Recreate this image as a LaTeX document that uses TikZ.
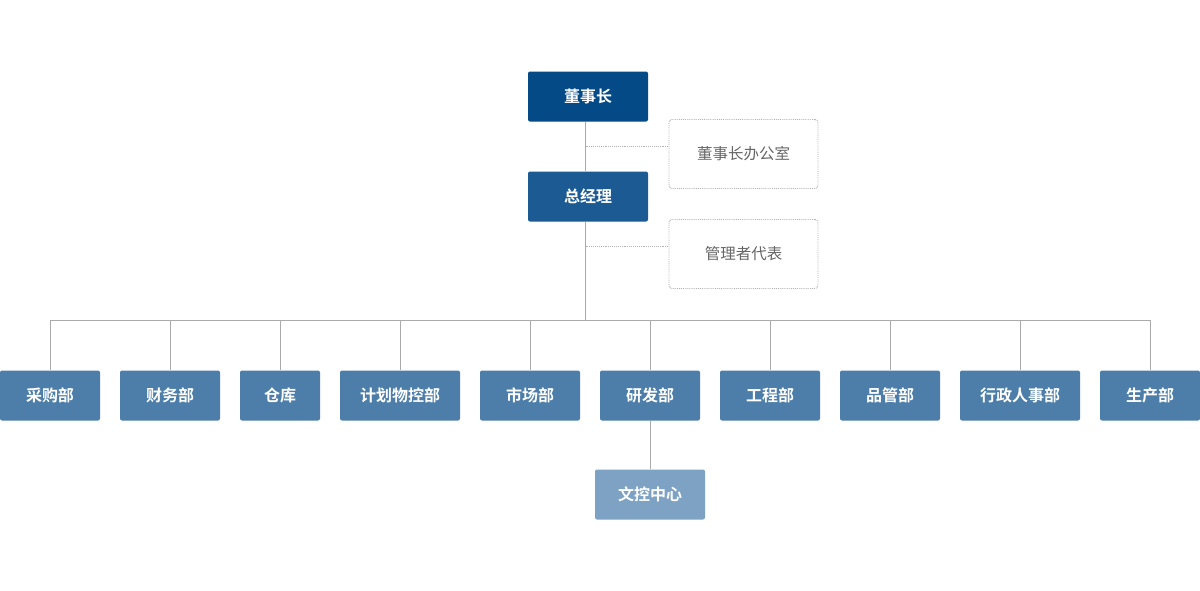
\documentclass[tikz,border=0pt]{standalone}
\usepackage{fontspec}
\setmainfont{Noto Sans CJK SC}
\newfontfamily\cjkbold{Noto Sans CJK SC Bold}
\begin{document}
\begin{tikzpicture}[x=1pt,y=-1pt,
  base/.style={rectangle,rounded corners=2pt,inner sep=0pt,text=white,font=\cjkbold\fontsize{16}{18}\selectfont,minimum height=50pt},
  top/.style={base,fill=topblue,minimum width=120pt},
  gm/.style={base,fill=gmblue,minimum width=120pt},
  dept/.style={base,fill=deptblue},
  sub/.style={base,fill=subblue,minimum width=110pt},
  aux/.style={rectangle,rounded corners=3pt,draw=auxgray,densely dotted,line width=0.9pt,minimum width=149pt,minimum height=69pt,text=txtgray,font=\fontsize{15.5}{18}\selectfont},
  link/.style={draw=linegray,line width=0.8pt},
  dlink/.style={draw=auxgray,densely dotted,line width=0.9pt}]
\definecolor{topblue}{HTML}{034A87}
\definecolor{gmblue}{HTML}{1C5A93}
\definecolor{deptblue}{HTML}{4D7EAA}
\definecolor{subblue}{HTML}{7EA2C3}
\definecolor{auxgray}{HTML}{B4B4B4}
\definecolor{txtgray}{HTML}{666666}
\definecolor{linegray}{HTML}{AAAAAA}
\useasboundingbox (0,0) rectangle (1200,590);
\fill[white] (0,0) rectangle (1200,590);
% top
\node[top] (dsz) at (588,96.5) {董事长};
\node[gm] (zjl) at (588,196.5) {总经理};
\node[aux] (off) at (743.5,154) {董事长办公室};
\node[aux] (rep) at (743.5,254) {管理者代表};
\coordinate (trunk) at (585.5,320);
\coordinate (j1) at (585.5,146.5);
\coordinate (j2) at (585.5,246.5);
% departments
\node[dept,minimum width=100pt] (d1) at (50,395.5) {采购部};
\node[dept,minimum width=100pt] (d2) at (170,395.5) {财务部};
\node[dept,minimum width=80pt] (d3) at (280,395.5) {仓库};
\node[dept,minimum width=120pt] (d4) at (400,395.5) {计划物控部};
\node[dept,minimum width=100pt] (d5) at (530,395.5) {市场部};
\node[dept,minimum width=100pt] (d6) at (650,395.5) {研发部};
\node[dept,minimum width=100pt] (d7) at (770,395.5) {工程部};
\node[dept,minimum width=100pt] (d8) at (890,395.5) {品管部};
\node[dept,minimum width=120pt] (d9) at (1020,395.5) {行政人事部};
\node[dept,minimum width=100pt] (d10) at (1150,395.5) {生产部};
\node[sub] (wk) at (650,494.5) {文控中心};
% connectors
\draw[link] (dsz.south -| trunk) -- (zjl.north -| trunk);
\draw[link] (zjl.south -| trunk) -- (trunk);
\draw[dlink] (j1) -- (j1 -| off.west);
\draw[dlink] (j2) -- (j2 -| rep.west);
\draw[link] (trunk -| d1) -- (trunk -| d10);
\foreach \d in {d1,d2,d3,d4,d5,d6,d7,d8,d9,d10}
  \draw[link] (trunk -| \d) -- (\d.north);
\draw[link] (d6.south) -- (wk.north);
\end{tikzpicture}
\end{document}
